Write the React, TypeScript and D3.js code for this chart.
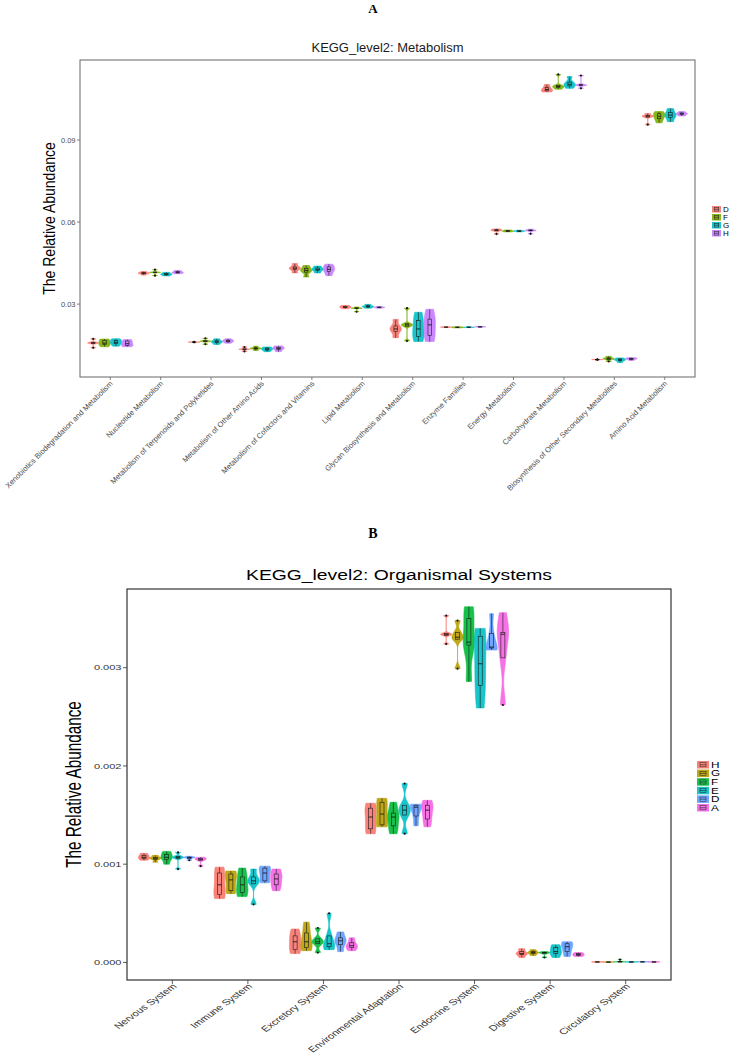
import React from 'react';
import * as d3 from 'd3';

// ---------------- Panel A data ----------------
const metabCategories = [
  'Xenobiotics Biodegradation and Metabolism',
  'Nucleotide Metabolism',
  'Metabolism of Terpenoids and Polyketides',
  'Metabolism of Other Amino Acids',
  'Metabolism of Cofactors and Vitamins',
  'Lipid Metabolism',
  'Glycan Biosynthesis and Metabolism',
  'Enzyme Families',
  'Energy Metabolism',
  'Carbohydrate Metabolism',
  'Biosynthesis of Other Secondary Metabolites',
  'Amino Acid Metabolism',
];
const metabGroups = ['D', 'F', 'G', 'H'];
const metabColors = ['#F8766D', '#7CAE00', '#00BFC4', '#C77CFF'];
const metabTicks = [0.03, 0.06, 0.09];

// samples per category, rows in metabGroups order (D, F, G, H)
const xenobioticsBiodeg = [
  [0.0140, 0.0156, 0.0158, 0.0160, 0.0173],
  [0.0144, 0.0152, 0.0157, 0.0167, 0.0172],
  [0.0146, 0.0155, 0.0160, 0.0167, 0.0173],
  [0.0144, 0.0149, 0.0155, 0.0165, 0.0170],
];
const nucleotide = [
  [0.0406, 0.0411, 0.0413, 0.0415, 0.0419],
  [0.0404, 0.0415, 0.0416, 0.0417, 0.0426],
  [0.0403, 0.0407, 0.0409, 0.0412, 0.0416],
  [0.0411, 0.0414, 0.0416, 0.0419, 0.0423],
];
const terpenoids = [
  [0.0160, 0.0161, 0.0161, 0.0161, 0.0162],
  [0.0153, 0.0163, 0.0164, 0.0166, 0.0175],
  [0.0152, 0.0159, 0.0162, 0.0166, 0.0173],
  [0.0157, 0.0162, 0.0165, 0.0168, 0.0173],
];
const otherAminoAcids = [
  [0.0127, 0.0134, 0.0135, 0.0136, 0.0143],
  [0.0130, 0.0136, 0.0138, 0.0140, 0.0146],
  [0.0126, 0.0132, 0.0135, 0.0139, 0.0143],
  [0.0126, 0.0134, 0.0138, 0.0142, 0.0147],
];
const cofactors = [
  [0.0414, 0.0426, 0.0431, 0.0436, 0.0448],
  [0.0399, 0.0417, 0.0423, 0.0430, 0.0441],
  [0.0414, 0.0423, 0.0427, 0.0432, 0.0439],
  [0.0404, 0.0419, 0.0427, 0.0436, 0.0446],
];
const lipid = [
  [0.0283, 0.0287, 0.0289, 0.0292, 0.0295],
  [0.0272, 0.0284, 0.0285, 0.0286, 0.0289],
  [0.0285, 0.0289, 0.0291, 0.0294, 0.0299],
  [0.0285, 0.0287, 0.0288, 0.0289, 0.0291],
];
const glycan = [
  [0.0177, 0.0200, 0.0209, 0.0220, 0.0244],
  [0.0165, 0.0219, 0.0224, 0.0228, 0.0285],
  [0.0163, 0.0182, 0.0209, 0.0240, 0.0270],
  [0.0163, 0.0185, 0.0224, 0.0245, 0.0281],
];
const enzyme = [
  [0.0214, 0.0215, 0.0216, 0.0216, 0.0217],
  [0.0213, 0.0214, 0.0215, 0.0216, 0.0217],
  [0.0214, 0.0215, 0.0215, 0.0216, 0.0217],
  [0.0215, 0.0216, 0.0217, 0.0217, 0.0218],
];
const energy = [
  [0.0556, 0.0568, 0.0570, 0.0572, 0.0575],
  [0.0564, 0.0566, 0.0567, 0.0569, 0.0571],
  [0.0564, 0.0566, 0.0567, 0.0568, 0.0570],
  [0.0557, 0.0568, 0.0569, 0.0571, 0.0574],
];
const carbohydrate = [
  [0.1076, 0.1080, 0.1085, 0.1092, 0.1103],
  [0.1086, 0.1092, 0.1096, 0.1100, 0.1140],
  [0.1089, 0.1098, 0.1104, 0.1112, 0.1132],
  [0.1089, 0.1099, 0.1101, 0.1103, 0.1136],
];
const secondaryMetabolites = [
  [0.0096, 0.0097, 0.0097, 0.0097, 0.0098],
  [0.0090, 0.0098, 0.0100, 0.0103, 0.0109],
  [0.0086, 0.0093, 0.0096, 0.0099, 0.0103],
  [0.0094, 0.0098, 0.0100, 0.0102, 0.0104],
];
const aminoAcid = [
  [0.0956, 0.0984, 0.0987, 0.0990, 0.0997],
  [0.0963, 0.0978, 0.0987, 0.0996, 0.1004],
  [0.0967, 0.0983, 0.0991, 0.1000, 0.1015],
  [0.0988, 0.0993, 0.0996, 0.0999, 0.1004],
];
const metabSamples = [
  xenobioticsBiodeg, nucleotide, terpenoids, otherAminoAcids, cofactors, lipid,
  glycan, enzyme, energy, carbohydrate, secondaryMetabolites, aminoAcid,
];

// ---------------- Panel B data ----------------
const orgCategories = [
  'Nervous System',
  'Immune System',
  'Excretory System',
  'Environmental Adaptation',
  'Endocrine System',
  'Digestive System',
  'Circulatory System',
];
const orgGroups = ['H', 'G', 'F', 'E', 'D', 'A'];
const orgColors = ['#F8766D', '#B79F00', '#00BA38', '#00BFC4', '#619CFF', '#F564E3'];
const orgTicks = [0, 0.001, 0.002, 0.003];

// rows in orgGroups order (H, G, F, E, D, A)
const nervous = [
  [0.00104, 0.00106, 0.00107, 0.00109, 0.00111],
  [0.00102, 0.00105, 0.00106, 0.00107, 0.00109],
  [0.00100, 0.00105, 0.00107, 0.00110, 0.00113],
  [0.00095, 0.00106, 0.00107, 0.00108, 0.00112],
  [0.00104, 0.00106, 0.00107, 0.00107, 0.00108],
  [0.00098, 0.00104, 0.00105, 0.00106, 0.00107],
];
const immune = [
  [0.00065, 0.00069, 0.00079, 0.00091, 0.00097],
  [0.00070, 0.00073, 0.00084, 0.00090, 0.00093],
  [0.00067, 0.00071, 0.00079, 0.00087, 0.00096],
  [0.00059, 0.00080, 0.00083, 0.00087, 0.00095],
  [0.00081, 0.00083, 0.00091, 0.00096, 0.00098],
  [0.00073, 0.00079, 0.00085, 0.00090, 0.00095],
];
const excretory = [
  [0.00009, 0.00013, 0.00021, 0.00027, 0.00034],
  [0.00012, 0.00015, 0.00021, 0.00030, 0.00041],
  [0.00010, 0.00019, 0.00021, 0.00024, 0.00035],
  [0.00013, 0.00016, 0.00019, 0.00027, 0.00050],
  [0.00011, 0.00018, 0.00022, 0.00025, 0.00031],
  [0.00012, 0.00015, 0.00017, 0.00020, 0.00025],
];
const envAdaptation = [
  [0.00131, 0.00136, 0.00148, 0.00157, 0.00162],
  [0.00138, 0.00140, 0.00151, 0.00163, 0.00167],
  [0.00131, 0.00139, 0.00148, 0.00152, 0.00163],
  [0.00131, 0.00150, 0.00155, 0.00160, 0.00182],
  [0.00139, 0.00149, 0.00158, 0.00160, 0.00161],
  [0.00138, 0.00146, 0.00155, 0.00160, 0.00165],
];
const endocrine = [
  [0.00324, 0.00333, 0.00334, 0.00335, 0.00353],
  [0.00299, 0.00329, 0.00331, 0.00336, 0.00348],
  [0.00286, 0.00323, 0.00326, 0.00350, 0.00362],
  [0.00259, 0.00282, 0.00304, 0.00332, 0.00340],
  [0.00318, 0.00320, 0.00321, 0.00335, 0.00355],
  [0.00262, 0.00310, 0.00334, 0.00336, 0.00356],
];
const digestive = [
  [0.00005, 0.00008, 0.00009, 0.00011, 0.00014],
  [0.00007, 0.00009, 0.00010, 0.00011, 0.00013],
  [0.00005, 0.00009, 0.00010, 0.00010, 0.00011],
  [0.00005, 0.00009, 0.00011, 0.00015, 0.00018],
  [0.00006, 0.00011, 0.00016, 0.00019, 0.00021],
  [0.00006, 0.00007, 0.00008, 0.00009, 0.00010],
];
const circulatory = [
  [0.000003, 0.000004, 0.000005, 0.000006, 0.000007],
  [0.000002, 0.000003, 0.000004, 0.000005, 0.000006],
  [0.000004, 0.000005, 0.000006, 0.000008, 0.00003],
  [0.000003, 0.000004, 0.000005, 0.000006, 0.000007],
  [0.000004, 0.000005, 0.000006, 0.000007, 0.000008],
  [0.000003, 0.000004, 0.000005, 0.000006, 0.000007],
];
const orgSamples = [nervous, immune, excretory, envAdaptation, endocrine, digestive, circulatory];

// ---------------- helpers ----------------
const FONT = '"Liberation Sans", Arial, Helvetica, sans-serif';

function bwNrd0(x: number[]): number {
  const s = x.slice().sort(d3.ascending);
  const sd = d3.deviation(s) || 0;
  const iqr = (d3.quantileSorted(s, 0.75) as number) - (d3.quantileSorted(s, 0.25) as number);
  let lo = Math.min(sd, iqr / 1.34);
  if (!(lo > 0)) lo = sd || Math.abs(s[0]) || 1;
  return 0.9 * lo * Math.pow(s.length, -0.2);
}

function violinProfile(x: number[]): [number, number][] {
  const bw = bwNrd0(x);
  const mn = d3.min(x) as number;
  const mx = d3.max(x) as number;
  const N = 96;
  const pts = d3.range(N).map((i) => mn + ((mx - mn) * i) / (N - 1));
  const dens = pts.map((p) => d3.sum(x, (v) => Math.exp(-0.5 * ((p - v) / bw) ** 2)));
  const m = d3.max(dens) as number;
  return pts.map((p, i) => [p, dens[i] / m]);
}

type PanelProps = {
  categories: string[];
  groups: string[];
  colors: string[];
  samples: number[][][];
  left: number; right: number; top: number; bottom: number;
  ticks: number[];
  fmt: (v: number) => string;
  title: string; titleBaseline: number; titleSize: number; titleLength: number;
  yTitleX: number; yTitleSize: number; yTitleSx: number;
  tickFont: number; textSx: number; xLabelFont: number; xLabelDx: number; xLabelDy: number;
  tickLen: number;
  legendX: number; legendY: number; legendStep: number; legendW: number; legendH: number; legendFont: number;
  boxW: number; frameColor: string; frameWidth: number; textColor: string; titleColor: string;
};

function Panel(p: PanelProps) {
  const x = d3.scalePoint<string>().domain(p.categories).range([p.left, p.right]).padding(0.6);
  const step = x.step();
  const all = p.samples.flat(2);
  const mn = d3.min(all) as number;
  const mx = d3.max(all) as number;
  const ex = (mx - mn) * 0.05;
  const y = d3.scaleLinear().domain([mn - ex, mx + ex]).range([p.bottom, p.top]);
  const n = p.groups.length;
  const vw = (0.9 * step) / n;
  const half = vw / 2;

  const marks: React.ReactNode[] = [];
  p.categories.forEach((cat, ci) => {
    p.groups.forEach((g, gi) => {
      const vals = p.samples[ci][gi];
      const cx = (x(cat) as number) + (gi - (n - 1) / 2) * vw;
      const prof = violinProfile(vals);
      const area = d3
        .area<[number, number]>()
        .y((d) => y(d[0]))
        .x0((d) => cx - d[1] * half)
        .x1((d) => cx + d[1] * half);
      const s = vals.slice().sort(d3.ascending);
      const q1 = d3.quantileSorted(s, 0.25) as number;
      const med = d3.quantileSorted(s, 0.5) as number;
      const q3 = d3.quantileSorted(s, 0.75) as number;
      const iqr = q3 - q1;
      const eps = 1e-12;
      const lo = q1 - 1.5 * iqr - eps;
      const hi = q3 + 1.5 * iqr + eps;
      const inside = s.filter((v) => v >= lo && v <= hi);
      const wLo = d3.min(inside) as number;
      const wHi = d3.max(inside) as number;
      const outl = s.filter((v) => v < lo || v > hi);
      const col = p.colors[gi];
      marks.push(
        <g key={`${ci}-${gi}`}>
          <path d={area(prof) as string} fill={col} fillOpacity={0.9} stroke={col} strokeWidth={0.6} />
          <line x1={cx} x2={cx} y1={y(q3)} y2={y(wHi)} stroke="#1a1a1a" strokeWidth={0.6} />
          <line x1={cx} x2={cx} y1={y(q1)} y2={y(wLo)} stroke="#1a1a1a" strokeWidth={0.6} />
          <rect x={cx - p.boxW / 2} y={y(q3)} width={p.boxW} height={Math.max(0.3, y(q1) - y(q3))}
            fill="none" stroke="#1a1a1a" strokeWidth={0.6} />
          <line x1={cx - p.boxW / 2} x2={cx + p.boxW / 2} y1={y(med)} y2={y(med)} stroke="#1a1a1a" strokeWidth={0.9} />
          {outl.map((v, k) => (
            <circle key={k} cx={cx} cy={y(v)} r={1.1} fill="#111" />
          ))}
        </g>
      );
    });
  });

  const cxTitle = (p.left + p.right) / 2;
  const cyMid = (p.top + p.bottom) / 2;

  return (
    <g fontFamily={FONT}>
      <text x={cxTitle} y={p.titleBaseline} textAnchor="middle" fontSize={p.titleSize} fill={p.titleColor}
        textLength={p.titleLength} lengthAdjust="spacingAndGlyphs">{p.title}</text>
      {marks}
      <rect x={p.left} y={p.top} width={p.right - p.left} height={p.bottom - p.top} fill="none"
        stroke={p.frameColor} strokeWidth={p.frameWidth} />
      {p.ticks.map((t) => (
        <g key={t}>
          <line x1={p.left - p.tickLen} x2={p.left} y1={y(t)} y2={y(t)} stroke={p.frameColor} strokeWidth={0.8} />
          <text transform={`translate(${p.left - p.tickLen - 1.5},${y(t)}) scale(${p.textSx},1)`} textAnchor="end"
            dy="0.35em" fontSize={p.tickFont} fill={p.textColor}>{p.fmt(t)}</text>
        </g>
      ))}
      {p.categories.map((c) => (
        <g key={c}>
          <line x1={x(c)} x2={x(c)} y1={p.bottom} y2={p.bottom + p.tickLen} stroke={p.frameColor} strokeWidth={0.8} />
          <text transform={`translate(${(x(c) as number) + p.xLabelDx},${p.bottom + p.xLabelDy}) scale(${p.textSx},1) rotate(-45)`}
            textAnchor="end" fontSize={p.xLabelFont} fill={p.textColor}>{c}</text>
        </g>
      ))}
      <text transform={`translate(${p.yTitleX},${cyMid}) scale(${p.yTitleSx},1) rotate(-90)`} textAnchor="middle"
        fontSize={p.yTitleSize} fill="#000">The Relative Abundance</text>
      {p.groups.map((g, gi) => {
        const ly = p.legendY + gi * p.legendStep;
        const lx = p.legendX;
        const bw = p.legendW * 0.5;
        return (
          <g key={g}>
            <rect x={lx} y={ly} width={p.legendW} height={p.legendH} fill={p.colors[gi]} fillOpacity={0.9} />
            <rect x={lx + (p.legendW - bw) / 2} y={ly + p.legendH * 0.22} width={bw} height={p.legendH * 0.56}
              fill="none" stroke="#222" strokeWidth={0.5} />
            <line x1={lx + (p.legendW - bw) / 2} x2={lx + (p.legendW + bw) / 2} y1={ly + p.legendH / 2} y2={ly + p.legendH / 2}
              stroke="#222" strokeWidth={0.6} />
            <text transform={`translate(${lx + p.legendW + 2},${ly + p.legendH / 2}) scale(${p.textSx},1)`} dy="0.36em"
              fontSize={p.legendFont} fill="#000">{g}</text>
          </g>
        );
      })}
    </g>
  );
}

export default function App() {
  return (
    <svg width={729} height={1056} viewBox="0 0 729 1056"
      style={{ position: 'absolute', left: 0, top: 0, display: 'block', background: '#fff' }}>
      <rect x={0} y={0} width={729} height={1056} fill="#fff" />
      <text x={373} y={13} textAnchor="middle" fontFamily='"Liberation Serif", "Times New Roman", serif'
        fontWeight="bold" fontSize={13}>A</text>
      <Panel
        categories={metabCategories} groups={metabGroups} colors={metabColors} samples={metabSamples}
        left={80} right={695} top={60} bottom={377}
        ticks={metabTicks} fmt={d3.format('.2f')}
        title="KEGG_level2: Metabolism" titleBaseline={52} titleSize={12} titleLength={152} titleColor="#1a1a1a"
        yTitleX={55} yTitleSize={14} yTitleSx={1.12}
        tickFont={7.5} textSx={1} xLabelFont={7.6} xLabelDx={3} xLabelDy={7} tickLen={3}
        legendX={712} legendY={206} legendStep={8} legendW={9} legendH={6.5} legendFont={8}
        boxW={3.5} frameColor="#666" frameWidth={1} textColor="#4d4d4d"
      />
      <text x={373} y={538} textAnchor="middle" fontFamily='"Liberation Serif", "Times New Roman", serif'
        fontWeight="bold" fontSize={14}>B</text>
      <Panel
        categories={orgCategories} groups={orgGroups} colors={orgColors} samples={orgSamples}
        left={127} right={671} top={589} bottom={980}
        ticks={orgTicks} fmt={d3.format('.3f')}
        title="KEGG_level2: Organismal Systems" titleBaseline={580} titleSize={14} titleLength={306} titleColor="#000"
        yTitleX={81} yTitleSize={15.3} yTitleSx={1.45}
        tickFont={8} textSx={1.38} xLabelFont={8.2} xLabelDx={5} xLabelDy={7} tickLen={4}
        legendX={697} legendY={761} legendStep={8.6} legendW={12} legendH={7.5} legendFont={8.5}
        boxW={4} frameColor="#333" frameWidth={1.2} textColor="#333"
      />
    </svg>
  );
}
